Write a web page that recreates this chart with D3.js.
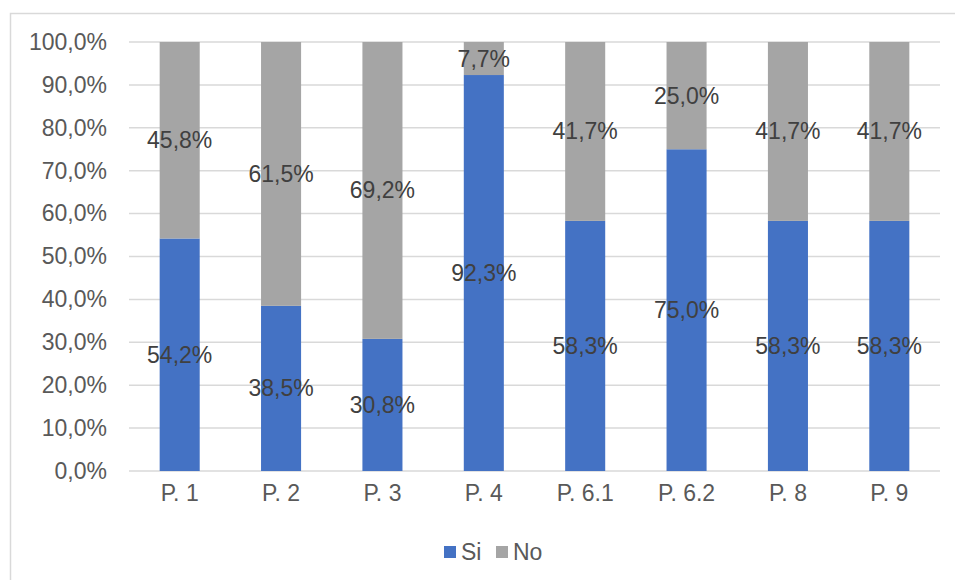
<!DOCTYPE html>
<html>
<head>
<meta charset="utf-8">
<script src="https://cdn.jsdelivr.net/npm/d3@7"></script>
<style>
  html, body { margin: 0; padding: 0; background: #fff; }
  svg { display: block; font-family: "Liberation Sans", Arial, sans-serif; }
</style>
</head>
<body>
<svg id="chart" width="955" height="580"></svg>
<script>
// Survey answers per question (percent)
const categories = ["P. 1", "P. 2", "P. 3", "P. 4", "P. 6.1", "P. 6.2", "P. 8", "P. 9"];
const siValues = [54.2, 38.5, 30.8, 92.3, 58.3, 75.0, 58.3, 58.3];
const noValues = [45.8, 61.5, 69.2, 7.7, 41.7, 25.0, 41.7, 41.7];
const yTicks = [0, 10, 20, 30, 40, 50, 60, 70, 80, 90, 100];
const seriesNames = ["Si", "No"];
const seriesColors = ["#4472C4", "#A5A5A5"];

const svg = d3.select("#chart");
const fmt = v => v.toFixed(1).replace(".", ",") + "%";

// outer chart frame
svg.append("rect")
  .attr("x", 10.5).attr("y", 13.5)
  .attr("width", 960).attr("height", 600)
  .attr("fill", "none").attr("stroke", "#D9D9D9").attr("stroke-width", 1.5);

const plot = { left: 129, right: 940, top: 42, bottom: 471 };

const x = d3.scaleBand()
  .domain(categories)
  .range([plot.left, plot.right])
  .paddingInner(0.605)
  .paddingOuter(0.3025);

const y = d3.scaleLinear().domain([0, 100]).range([plot.bottom, plot.top]);

// horizontal gridlines
svg.append("g")
  .selectAll("line")
  .data(yTicks)
  .join("line")
  .attr("x1", plot.left).attr("x2", plot.right)
  .attr("y1", d => y(d)).attr("y2", d => y(d))
  .attr("stroke", "#D9D9D9").attr("stroke-width", 1.5);

// y axis labels
const yAxis = d3.axisLeft(y).tickValues(yTicks).tickFormat(fmt).tickSize(0).tickPadding(0);
svg.append("g")
  .attr("transform", `translate(${plot.left - 22},0)`)
  .call(yAxis)
  .call(g => g.select(".domain").remove())
  .call(g => g.selectAll("text")
    .attr("font-size", 23).attr("fill", "#595959")
    .attr("font-family", "Liberation Sans, Arial, sans-serif"));

// x axis labels
const xAxis = d3.axisBottom(x).tickSize(0).tickPadding(0);
svg.append("g")
  .attr("transform", `translate(0,${plot.bottom + 14})`)
  .call(xAxis)
  .call(g => g.select(".domain").remove())
  .call(g => g.selectAll("text")
    .attr("font-size", 23).attr("fill", "#595959")
    .attr("font-family", "Liberation Sans, Arial, sans-serif"));

// stacked bars
const rows = categories.map((c, i) => ({ cat: c, Si: siValues[i], No: noValues[i] }));
const stack = d3.stack().keys(seriesNames)(rows);
const color = d3.scaleOrdinal().domain(seriesNames).range(seriesColors);

const layers = svg.append("g")
  .selectAll("g")
  .data(stack)
  .join("g")
  .attr("fill", d => color(d.key));

layers.selectAll("rect")
  .data(d => d)
  .join("rect")
  .attr("x", d => x(d.data.cat))
  .attr("width", x.bandwidth())
  .attr("y", d => y(d[1]))
  .attr("height", d => y(d[0]) - y(d[1]));

// value labels centred in each segment
svg.append("g")
  .selectAll("g")
  .data(stack)
  .join("g")
  .selectAll("text")
  .data(d => d.map(p => ({ p, key: d.key })))
  .join("text")
  .attr("x", d => x(d.p.data.cat) + x.bandwidth() / 2)
  .attr("y", d => y((d.p[0] + d.p[1]) / 2))
  .attr("dy", "0.35em")
  .attr("text-anchor", "middle")
  .attr("font-size", 23)
  .attr("fill", "#404040")
  .text(d => fmt(d.p.data[d.key]));

// legend
const legendItems = [
  { name: "Si", x: 444 },
  { name: "No", x: 496 }
];
const legend = svg.append("g");
legendItems.forEach(item => {
  legend.append("rect")
    .attr("x", item.x).attr("y", 546)
    .attr("width", 12).attr("height", 12)
    .attr("fill", color(item.name));
  legend.append("text")
    .attr("x", item.x + 17).attr("y", 552)
    .attr("dy", "0.35em")
    .attr("font-size", 23)
    .attr("fill", "#595959")
    .text(item.name);
});
</script>
</body>
</html>
